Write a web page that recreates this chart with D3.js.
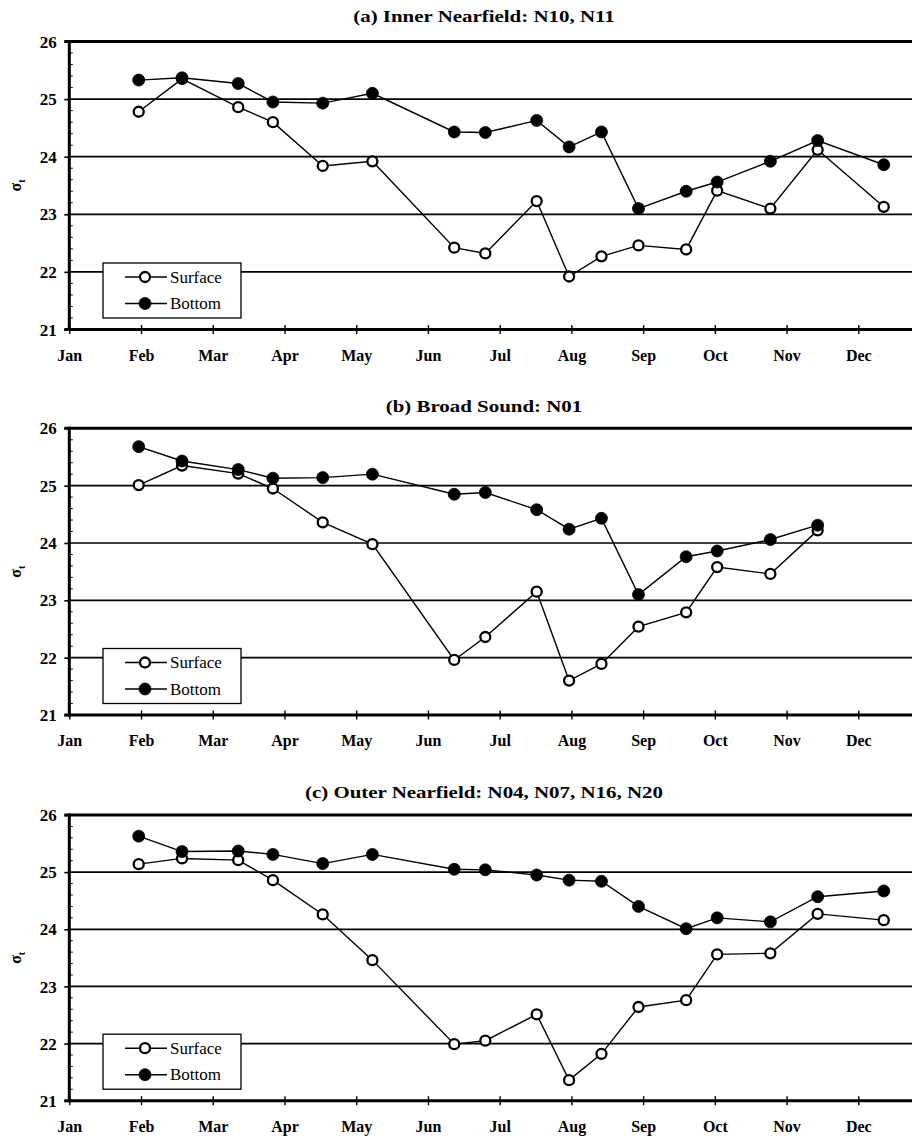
<!DOCTYPE html>
<html>
<head>
<meta charset="utf-8">
<script src="https://cdn.jsdelivr.net/npm/d3@7/dist/d3.min.js"></script>
<style>
  html, body { margin: 0; padding: 0; background: #fff; }
  svg { display: block; }
  svg text { font-family: "Liberation Serif", "Times New Roman", serif; }
</style>
</head>
<body>
<div id="chart"></div>
<script>
// ---------------- DATA ----------------
const months = ["Jan","Feb","Mar","Apr","May","Jun","Jul","Aug","Sep","Oct","Nov","Dec"];
const yTicks = [21, 22, 23, 24, 25, 26];
const surveyDates = ["01-31","02-17","03-12","03-27","04-17","05-08","06-12","06-25",
                     "07-17","07-31","08-14","08-30","09-19","10-02","10-25","11-14","12-12"];
const seriesNames = ["Surface", "Bottom"];
const panelTitles = ["(a) Inner Nearfield: N10, N11",
                     "(b) Broad Sound: N01",
                     "(c) Outer Nearfield: N04, N07, N16, N20"];

const innerSurface = [24.78, 25.35, 24.86, 24.60, 23.84, 23.92, 22.42, 22.32, 23.23,
                      21.92, 22.27, 22.46, 22.39, 23.41, 23.10, 24.12, 23.13];
const innerBottom  = [25.33, 25.37, 25.27, 24.95, 24.93, 25.10, 24.43, 24.42, 24.63,
                      24.17, 24.43, 23.10, 23.40, 23.56, 23.92, 24.28, 23.86];

const broadSurface = [25.01, 25.35, 25.21, 24.95, 24.36, 23.98, 21.96, 22.36, 23.15,
                      21.60, 21.89, 22.54, 22.79, 23.58, 23.46, 24.22];
const broadBottom  = [25.68, 25.43, 25.28, 25.13, 25.14, 25.20, 24.85, 24.88, 24.58,
                      24.24, 24.43, 23.10, 23.76, 23.86, 24.06, 24.31];

const outerSurface = [25.14, 25.24, 25.21, 24.86, 24.26, 23.46, 21.99, 22.05, 22.51,
                      21.36, 21.82, 22.64, 22.76, 23.56, 23.58, 24.27, 24.16];
const outerBottom  = [25.63, 25.36, 25.37, 25.31, 25.15, 25.31, 25.05, 25.04, 24.95,
                      24.86, 24.84, 24.40, 24.01, 24.20, 24.13, 24.57, 24.67];

// ---------------- LAYOUT ----------------
const W = 912, H = 1137;
const serif = "Liberation Serif";
const panels = [
  { title: panelTitles[0], surface: innerSurface, bottom: innerBottom, top: 41.5, base: 329.5, titleY: 22 },
  { title: panelTitles[1], surface: broadSurface, bottom: broadBottom, top: 428.3, base: 715, titleY: 411.5 },
  { title: panelTitles[2], surface: outerSurface, bottom: outerBottom, top: 815, base: 1100.7, titleY: 798.3 }
];

const daysIn = [31,28,31,30,31,30,31,31,30,31,30,31];
function monthPos(s) {
  const [m, d] = s.split("-").map(Number);
  return (m - 1) + (d - 1) / daysIn[m - 1];
}

const x = d3.scaleLinear().domain([0, 11]).range([69.3, 858.3]);
const xEnd = W + 2;

const svg = d3.select("#chart").append("svg")
  .attr("width", W).attr("height", H)
  .attr("viewBox", `0 0 ${W} ${H}`)
  .attr("font-family", serif);

panels.forEach(p => {
  const g = svg.append("g");
  const y = d3.scaleLinear().domain([21, 26]).range([p.base, p.top]);
  const x0 = x(0);

  // title
  const t = g.append("text")
    .attr("x", 484).attr("y", p.titleY)
    .attr("text-anchor", "middle")
    .attr("font-family", serif)
    .attr("font-size", 17).attr("font-weight", "bold")
    .text(p.title);
  const nat = t.node().getComputedTextLength();
  t.attr("textLength", nat * 1.23).attr("lengthAdjust", "spacingAndGlyphs");

  // gridlines (22..25)
  g.selectAll("line.grid").data(yTicks.filter(v => v > 21 && v < 26)).join("line")
    .attr("class", "grid")
    .attr("x1", x0).attr("x2", xEnd)
    .attr("y1", d => y(d)).attr("y2", d => y(d))
    .attr("stroke", "#000").attr("stroke-width", 1.7);

  // top border (26)
  g.append("line")
    .attr("x1", x0 - 5).attr("x2", xEnd)
    .attr("y1", y(26)).attr("y2", y(26))
    .attr("stroke", "#000").attr("stroke-width", 3);

  // y axis
  const yAxis = d3.axisLeft(y).tickValues(yTicks).tickSize(5).tickPadding(7.6).tickFormat(d3.format("d"));
  const ya = g.append("g").attr("transform", `translate(${x0},0)`).call(yAxis)
    .attr("font-family", serif);
  ya.select(".domain").remove();
  ya.selectAll(".tick line").attr("stroke", "#000").attr("stroke-width", 1.6);
  ya.selectAll(".tick text")
    .attr("font-family", serif).attr("font-size", 17).attr("font-weight", "bold")
    .attr("fill", "#000").attr("dy", "0.33em");

  // minor ticks on y axis
  const minor = d3.range(21.2, 26, 0.2).filter(v => Math.abs(v - Math.round(v)) > 0.01);
  g.selectAll("line.minor").data(minor).join("line")
    .attr("class", "minor")
    .attr("x1", x0).attr("x2", x0 + 3.5)
    .attr("y1", d => y(d)).attr("y2", d => y(d))
    .attr("stroke", "#000").attr("stroke-width", 1);

  g.append("line")
    .attr("x1", x0).attr("x2", x0)
    .attr("y1", y(26) - 1.5).attr("y2", y(21) + 1.5)
    .attr("stroke", "#000").attr("stroke-width", 3);

  // x axis
  const xAxis = d3.axisBottom(x).tickValues(d3.range(12)).tickSize(4.5)
    .tickFormat(i => months[i]);
  const xa = g.append("g").attr("transform", `translate(0,${y(21)})`).call(xAxis)
    .attr("font-family", serif);
  xa.select(".domain").remove();
  xa.selectAll(".tick line").attr("y1", -4.5).attr("y2", 4.5)
    .attr("stroke", "#000").attr("stroke-width", 1.4);
  xa.selectAll(".tick text")
    .attr("font-family", serif).attr("font-size", 16).attr("font-weight", "bold")
    .attr("fill", "#000").attr("y", 31).attr("dy", 0);
  g.append("line")
    .attr("x1", x0 - 5).attr("x2", xEnd)
    .attr("y1", y(21)).attr("y2", y(21))
    .attr("stroke", "#000").attr("stroke-width", 3);

  // series
  const dates = surveyDates.slice(0, p.surface.length);
  const line = d3.line().x((d, i) => x(monthPos(dates[i]))).y(d => y(d));

  [p.surface, p.bottom].forEach(vals => {
    g.append("path").datum(vals)
      .attr("d", line)
      .attr("fill", "none").attr("stroke", "#000").attr("stroke-width", 1.4);
  });
  [["surface", p.surface, "#fff"], ["bottom", p.bottom, "#000"]].forEach(([name, vals, fill]) => {
    g.selectAll(`circle.${name}`).data(vals).join("circle")
      .attr("class", name)
      .attr("cx", (d, i) => x(monthPos(dates[i])))
      .attr("cy", d => y(d))
      .attr("r", name === "surface" ? 5 : 6)
      .attr("fill", fill)
      .attr("stroke", "#000").attr("stroke-width", name === "surface" ? 2.3 : 0.8);
  });

  // legend
  const lx = 103, ly = p.base - 66.5;
  const lg = g.append("g").attr("transform", `translate(${lx},${ly})`);
  lg.append("rect").attr("width", 138).attr("height", 55)
    .attr("fill", "#fff").attr("stroke", "#000").attr("stroke-width", 1.3);
  seriesNames.forEach((nm, i) => {
    const cy = 14 + i * 26.5;
    lg.append("line").attr("x1", 22).attr("x2", 64).attr("y1", cy).attr("y2", cy)
      .attr("stroke", "#000").attr("stroke-width", 1.4);
    lg.append("circle").attr("cx", 42).attr("cy", cy)
      .attr("r", i === 0 ? 5 : 6)
      .attr("fill", i === 0 ? "#fff" : "#000")
      .attr("stroke", "#000").attr("stroke-width", i === 0 ? 2.3 : 0.8);
    lg.append("text").attr("x", 67).attr("y", cy + 5.5)
      .attr("font-family", serif)
      .attr("font-size", 17).attr("fill", "#000")
      .text(nm);
  });

  // y-axis label sigma_t
  const cyMid = (p.top + p.base) / 2;
  const lab = g.append("text")
    .attr("transform", `translate(21,${cyMid}) rotate(-90)`)
    .attr("text-anchor", "middle")
    .attr("font-family", serif)
    .attr("font-size", 16).attr("font-weight", "bold");
  lab.append("tspan").text("σ");
  lab.append("tspan").attr("font-size", 10).attr("dy", 4).text("t");
});
</script>
</body>
</html>
